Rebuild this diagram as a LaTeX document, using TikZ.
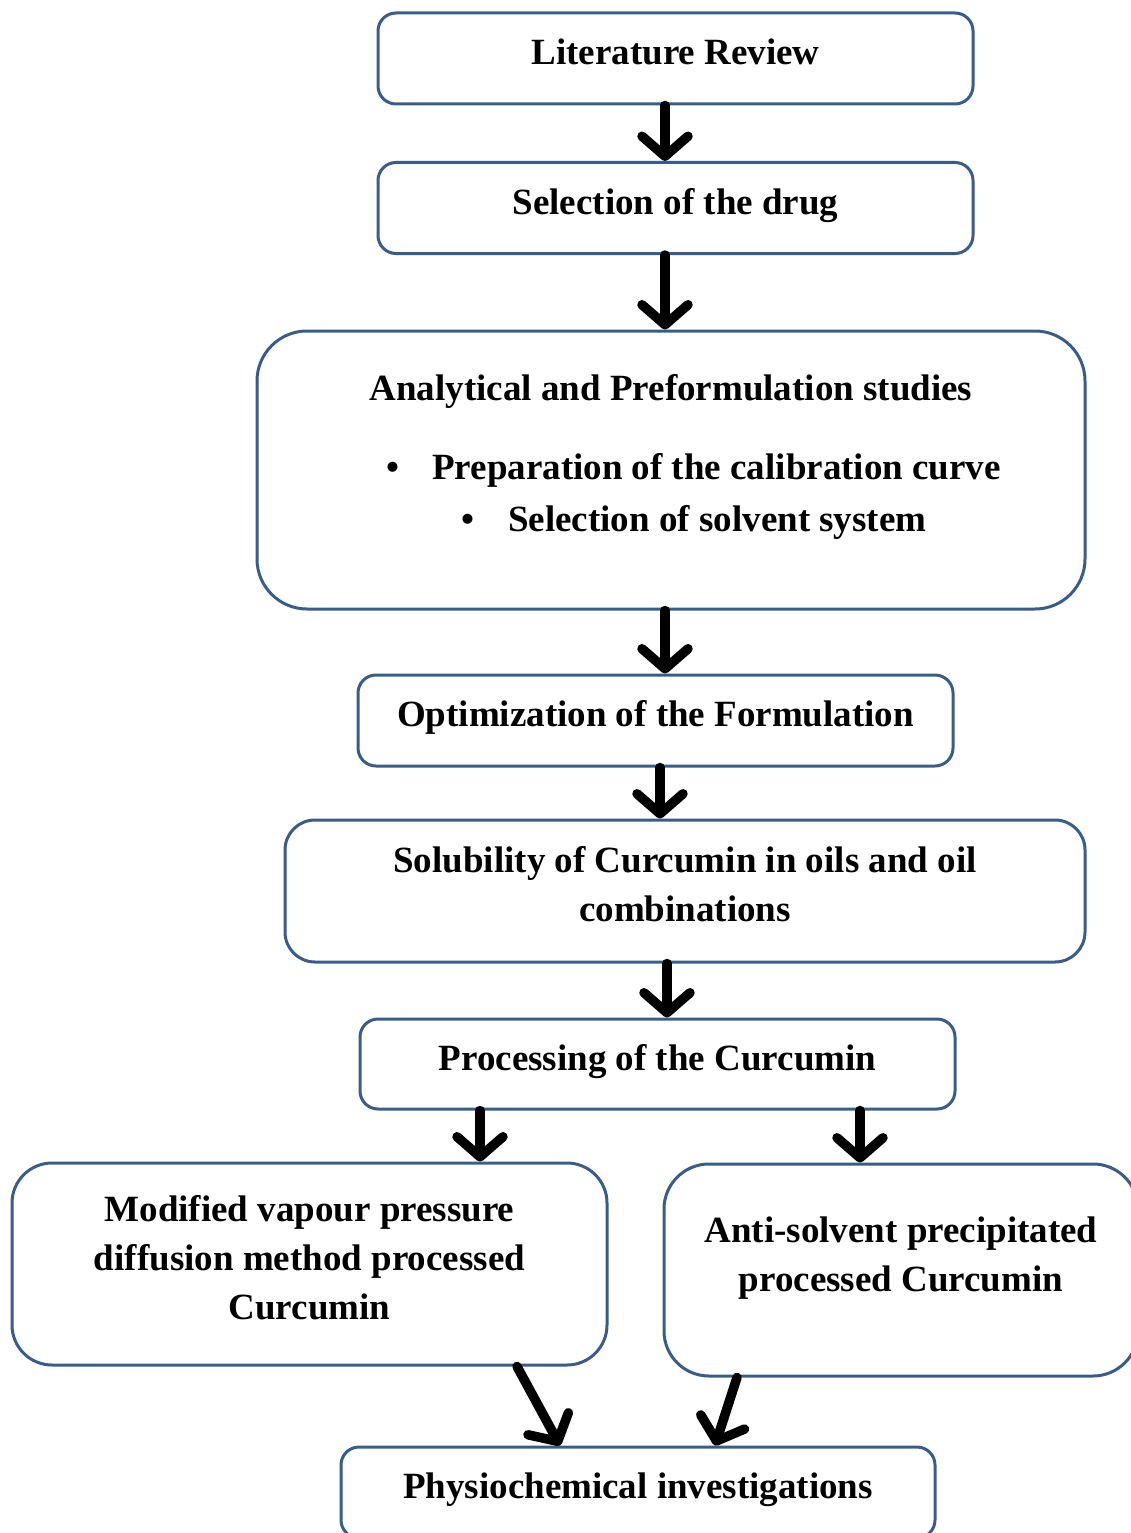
\documentclass[tikz,border=0pt]{standalone}
\usepackage{fontspec}
\setmainfont{Liberation Serif}
\usetikzlibrary{arrows.meta, positioning}
\definecolor{boxblue}{RGB}{56,93,138}
\tikzset{
    stage/.style={draw=boxblue, line width=3pt, rounded corners=18pt, inner sep=0pt,
        text depth=14pt, align=center, font=\bfseries\fontsize{37}{49}\selectfont},
    txt/.style={inner sep=0pt, align=center, font=\bfseries\fontsize{37}{49}\selectfont},
    flow/.style={line width=9.5pt, line cap=round,
        -{Straight Barb[length=20pt, width=46pt, round]}},
}

\begin{document}
\begin{tikzpicture}[x=1pt, y=-1pt]
        \useasboundingbox (0,0) rectangle (1130,1533);

        % stages
        \node[stage, minimum width=595pt, minimum height=91pt] (lit) at (675.5,58.5) {Literature Review};
        \node[stage, minimum width=595pt, minimum height=91pt] (sel) at (675.5,208) {Selection of the drug};
        \node[stage, minimum width=828pt, minimum height=278pt, rounded corners=50pt] (ana) at (671,470) {};
        \node[txt] (anatitle) at (671,391) {Analytical and Preformulation studies};
        \node[txt, anchor=west] (calib) at (386,470) {\makebox[46pt][l]{\textbullet}Preparation of the calibration curve};
        \node[txt, anchor=west] (solv) at (461,522) {\makebox[47pt][l]{\textbullet}Selection of solvent system};
        \node[stage, minimum width=595pt, minimum height=91pt] (opt) at (655.5,720.5) {Optimization of the Formulation};
        \node[stage, minimum width=800pt, minimum height=142pt, rounded corners=30pt] (sol) at (685,891) {Solubility of Curcumin in oils and oil\\combinations};
        \node[stage, minimum width=595pt, minimum height=90pt] (proc) at (657.5,1064) {Processing of the Curcumin};
        \node[stage, minimum width=595pt, minimum height=202pt, rounded corners=40pt] (mod) at (309.5,1264) {Modified vapour pressure\\diffusion method processed\\Curcumin};
        \node[stage, minimum width=474pt, minimum height=212pt, rounded corners=45pt] (anti) at (901,1270) {};
        \node[txt] (antitext) at (901,1258) {Anti-solvent precipitated\\processed Curcumin};
        \node[stage, minimum width=594pt, minimum height=91pt] (phys) at (638,1492.5) {Physiochemical investigations};

        % arrows
        \draw[flow] ([xshift=-10.5pt]lit.south) -- ([xshift=-10.5pt]sel.north);
        \draw[flow] ([xshift=-10.5pt]sel.south) -- ([xshift=-10.5pt]sel.south |- ana.north);
        \draw[flow] ([xshift=-6pt]ana.south) -- ([xshift=-6pt]ana.south |- opt.north);
        \draw[flow] ([xshift=4.5pt]opt.south) -- ([xshift=4.5pt]opt.south |- sol.north);
        \draw[flow] ([xshift=-18pt]sol.south) -- ([xshift=-18pt]sol.south |- proc.north);
        \draw[flow] ([xshift=-177.5pt]proc.south) -- ([xshift=-177.5pt]proc.south |- mod.north);
        \draw[flow] ([xshift=202.5pt]proc.south) -- ([xshift=202.5pt]proc.south |- anti.north);
        \draw[flow] ([xshift=207.5pt]mod.south) -- ([xshift=-78pt]phys.north);
        \draw[flow] ([xshift=-164pt]anti.south) -- ([xshift=77pt]phys.north);
\end{tikzpicture}
\end{document}
